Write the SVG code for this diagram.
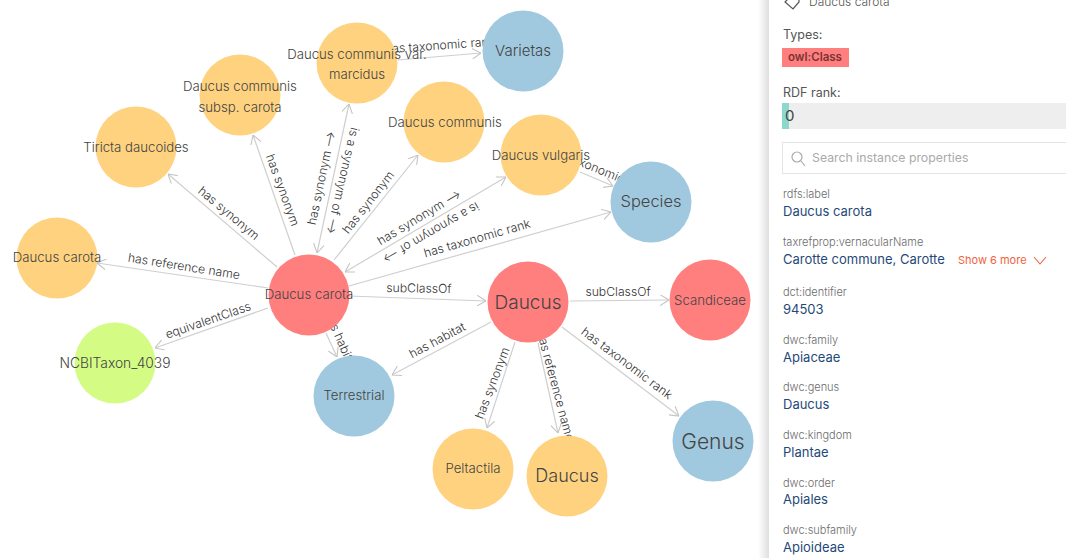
<svg xmlns="http://www.w3.org/2000/svg" width="1066" height="558" viewBox="0 0 1066 558">
<style>
text{font-family:"Inter","Open Sans","Liberation Sans",sans-serif}
.e{stroke:#cfcfcf;stroke-width:1.2;fill:none;marker-end:url(#a)}
.b{marker-start:url(#s)}
.l{font-size:12.2px;font-weight:300;fill:#333;text-anchor:middle;dominant-baseline:central}
.n{font-size:13.2px;font-weight:300;fill:#444;text-anchor:middle;dominant-baseline:central}
.big{font-size:19px}
.y{fill:#ffd27f}.r{fill:#ff7f7f}.bl{fill:#a0c9df}.g{fill:#d4fc85}
.k{font-size:11px;fill:#6b6b6b;font-weight:300}
.v{font-size:13px;fill:#1f4a78}
</style>
<defs>
<marker id="a" viewBox="0 0 10 12" refX="10" refY="6" markerWidth="9" markerHeight="11" orient="auto" markerUnits="userSpaceOnUse"><path d="M0 0L10 6L0 12" fill="none" stroke="#c4c4c4" stroke-width="1.2"/></marker>
<marker id="s" viewBox="0 0 10 12" refX="0" refY="6" markerWidth="9" markerHeight="11" orient="auto" markerUnits="userSpaceOnUse"><path d="M10 0L0 6L10 12" fill="none" stroke="#c4c4c4" stroke-width="1.2"/></marker>
<linearGradient id="sh" x1="0" x2="1"><stop offset="0" stop-color="#000" stop-opacity="0"/><stop offset="1" stop-color="#000" stop-opacity=".14"/></linearGradient>
</defs>
<rect width="1066" height="558" fill="#fff"/>
<g id="connectors">
<line class="e" x1="277" y1="267" x2="168" y2="174"/>
<line class="e" x1="295" y1="255" x2="253" y2="135"/>
<line class="e b" x1="317" y1="253" x2="349" y2="104"/>
<line class="e" x1="334" y1="260" x2="418" y2="155"/>
<line class="e b" x1="345" y1="272" x2="506" y2="177"/>
<line class="e" x1="349" y1="286" x2="611" y2="212"/>
<line class="e" x1="398" y1="60" x2="481" y2="53"/>
<line class="e" x1="580" y1="172" x2="613" y2="186"/>
<line class="e" x1="268" y1="288" x2="97" y2="263"/>
<line class="e" x1="268" y1="308" x2="155" y2="348"/>
<line class="e" x1="349" y1="296" x2="486" y2="301"/>
<line class="e" x1="570" y1="301" x2="669" y2="300"/>
<line class="e" x1="326" y1="333" x2="337" y2="357"/>
<line class="e" x1="491" y1="322" x2="392" y2="375"/>
<line class="e" x1="515" y1="342" x2="487" y2="428"/>
<line class="e" x1="538" y1="343" x2="558" y2="433"/>
<line class="e" x1="562" y1="327" x2="679" y2="416"/>
<text class="l" transform="translate(229,213) rotate(40)">has synonym</text>
<text class="l" transform="translate(283,190) rotate(70)">has synonym</text>
<text class="l" transform="translate(321,178) rotate(-78)">has synonym ⟶</text>
<text class="l" transform="translate(343,181) rotate(103)">is a synonym of ⟶</text>
<text class="l" transform="translate(368,202) rotate(-52)">has synonym</text>
<text class="l" transform="translate(419,217) rotate(-31)">has synonym ⟶</text>
<text class="l" transform="translate(431,233) rotate(150)">is a synonym of ⟶</text>
<text class="l" transform="translate(477,238) rotate(-16)">has taxonomic rank</text>
<text class="l" transform="translate(440,45) rotate(-4)">has taxonomic rank</text>
<text class="l" transform="translate(599,169) rotate(22)">has taxonomic rank</text>
<text class="l" transform="translate(184,266) rotate(9)">has reference name</text>
<text class="l" transform="translate(208,320) rotate(-19)">equivalentClass</text>
<text class="l" transform="translate(419,288) rotate(1)">subClassOf</text>
<text class="l" transform="translate(618,291)">subClassOf</text>
<text class="l" transform="translate(341,340) rotate(66)">has habitat</text>
<text class="l" transform="translate(437,340) rotate(-28)">has habitat</text>
<text class="l" transform="translate(492,383) rotate(-69)">has synonym</text>
<text class="l" transform="translate(556,386) rotate(75)">has reference name</text>
<text class="l" transform="translate(627,363) rotate(37)">has taxonomic rank</text>
</g>
<g id="n1"><circle class="bl" cx="523" cy="51" r="40.5"/><text class="n" x="523" y="50" style="font-size:15px">Varietas</text></g>
<g id="n2"><circle class="y" cx="357" cy="63" r="40.5"/><text class="n" x="357" y="54">Daucus communis var.</text><text class="n" x="357" y="74">marcidus</text></g>
<g id="n3"><circle class="y" cx="240" cy="95" r="40.5"/><text class="n" x="240" y="86">Daucus communis</text><text class="n" x="240" y="107">subsp. carota</text></g>
<g id="n4"><circle class="y" cx="444" cy="122" r="40.5"/><text class="n" x="445" y="122">Daucus communis</text></g>
<g id="n5"><circle class="y" cx="541" cy="155" r="40.5"/><text class="n" x="541" y="155">Daucus vulgaris</text></g>
<g id="n6"><circle class="y" cx="136" cy="147" r="40.5"/><text class="n" x="136" y="147">Tiricta daucoides</text></g>
<g id="n7"><circle class="bl" cx="651" cy="202" r="40.5"/><text class="n" x="651" y="201" style="font-size:16.5px">Species</text></g>
<g id="n8"><circle class="y" cx="57" cy="258" r="40.5"/><text class="n" x="57" y="257">Daucus carota</text></g>
<g id="n9"><circle class="r" cx="309" cy="295" r="40.5"/><text class="n" x="309" y="294">Daucus carota</text></g>
<g id="n10"><circle class="r" cx="528" cy="302" r="40.5"/><text class="n big" x="528" y="302">Daucus</text></g>
<g id="n11"><circle class="r" cx="710" cy="300" r="40.5"/><text class="n" x="710" y="300">Scandiceae</text></g>
<g id="n12"><circle class="g" cx="115" cy="363" r="40.5"/><text class="n" x="115" y="363" style="font-size:13.8px">NCBITaxon_4039</text></g>
<g id="n13"><circle class="bl" cx="354" cy="396" r="40.5"/><text class="n" x="354" y="395">Terrestrial</text></g>
<g id="n14"><circle class="y" cx="473" cy="469" r="40.5"/><text class="n" x="473" y="468">Peltactila</text></g>
<g id="n15"><circle class="y" cx="567" cy="476" r="40.5"/><text class="n" x="567" y="475" style="font-size:18px">Daucus</text></g>
<g id="n16"><circle class="bl" cx="713" cy="441" r="40.5"/><text class="n" x="713" y="441" style="font-size:21px">Genus</text></g>
<g id="panel">
<rect x="758" width="12" height="558" fill="url(#sh)"/>
<rect x="769" width="297" height="558" fill="#fff"/>
<path d="M785 2L791 -4L799 -3V2L793 9Z" fill="none" stroke="#555" stroke-width="1.2"/>
<text x="809" y="6" font-size="12" font-weight="300" fill="#555">Daucus carota</text>
<text x="783" y="39" font-size="12.5" fill="#555">Types:</text>
<rect x="782" y="48" width="67" height="19" fill="#ff7f7f"/>
<text x="788" y="61" font-size="11.5" font-weight="600" fill="#7a3333">owl:Class</text>
<text x="783" y="97" font-size="12.5" fill="#555">RDF rank:</text>
<rect x="782" y="103" width="284" height="26" fill="#eee"/>
<rect x="782" y="103" width="7" height="26" fill="#8dd8cc"/>
<text x="785" y="121" font-size="15" fill="#444">0</text>
<rect x="782.5" y="142.5" width="290" height="31" fill="#fff" stroke="#e4e4e4"/>
<circle cx="797" cy="157" r="5" fill="none" stroke="#aaa" stroke-width="1.2"/>
<path d="M801 161L805 166" stroke="#aaa" stroke-width="1.2"/>
<text x="812" y="162" font-size="12.3" fill="#aaa">Search instance properties</text>
<text class="k" x="783" y="198">rdfs:label</text><text class="v" x="783" y="216">Daucus carota</text>
<text class="k" x="783" y="246">taxrefprop:vernacularName</text><text class="v" x="783" y="264">Carotte commune, Carotte</text>
<text x="958" y="264" font-size="11" fill="#f0623e">Show 6 more</text>
<path d="M1034 257L1040 264L1046 257" fill="none" stroke="#f0623e" stroke-width="1.1"/>
<text class="k" x="783" y="296">dct:identifier</text><text class="v" x="783" y="314">94503</text>
<text class="k" x="783" y="344">dwc:family</text><text class="v" x="783" y="362">Apiaceae</text>
<text class="k" x="783" y="391">dwc:genus</text><text class="v" x="783" y="409">Daucus</text>
<text class="k" x="783" y="439">dwc:kingdom</text><text class="v" x="783" y="457">Plantae</text>
<text class="k" x="783" y="487">dwc:order</text><text class="v" x="783" y="504">Apiales</text>
<text class="k" x="783" y="534">dwc:subfamily</text><text class="v" x="783" y="552">Apioideae</text>
</g>
</svg>
